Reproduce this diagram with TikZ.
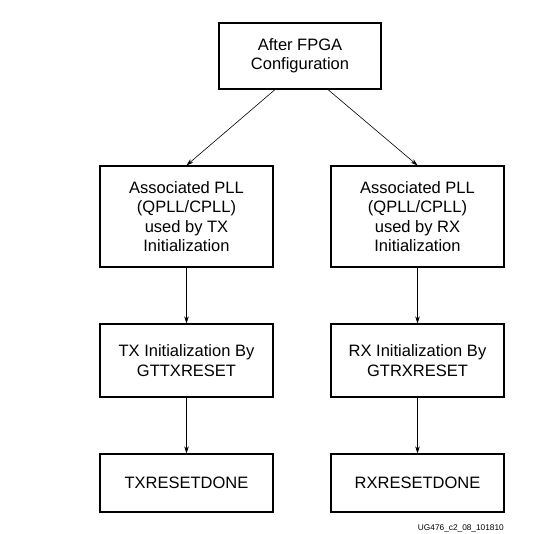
\documentclass[tikz,border=0pt]{standalone}
\usepackage{fontspec}
\setmainfont{Liberation Sans}
\usetikzlibrary{arrows.meta}

\tikzset{
	stepbox/.style={draw, line width=1.2pt, align=center, inner sep=0pt,
		font=\fontsize{16.5}{19.4}\selectfont},
	flow/.style={-{Stealth[length=7pt,width=4.5pt]}, line width=0.6pt}
}

\begin{document}
\begin{tikzpicture}[x=1pt,y=-1pt]
	\useasboundingbox (0,0) rectangle (546,533);
	% start
	\node[stepbox, minimum width=162pt, minimum height=66pt] (config) at (300,56) {After FPGA\\Configuration};
	% PLL boxes
	\node[stepbox, minimum width=173pt, minimum height=101pt] (txpll) at (186.5,216.5) {Associated PLL\\(QPLL/CPLL)\\used by TX\\Initialization};
	\node[stepbox, minimum width=173pt, minimum height=101pt] (rxpll) at (417.5,216.5) {Associated PLL\\(QPLL/CPLL)\\used by RX\\Initialization};
	% reset boxes
	\node[stepbox, minimum width=173pt, minimum height=73pt] (txinit) at (186.5,360.5) {TX Initialization By\\GTTXRESET};
	\node[stepbox, minimum width=173pt, minimum height=73pt] (rxinit) at (417.5,360.5) {RX Initialization By\\GTRXRESET};
	% done boxes
	\node[stepbox, minimum width=173pt, minimum height=58pt] (txdone) at (186.5,483) {TXRESETDONE};
	\node[stepbox, minimum width=173pt, minimum height=58pt] (rxdone) at (417.5,483) {RXRESETDONE};
	% figure id
	\node[anchor=base east, inner sep=0pt, font=\fontsize{8.3}{10}\selectfont] (figid) at (504,530) {UG476\_c2\_08\_101810};

	\draw[flow] ([xshift=-25pt]config.south) -- (txpll.north);
	\draw[flow] ([xshift=28pt]config.south) -- (rxpll.north);
	\draw[flow] (txpll) -- (txinit);
	\draw[flow] (rxpll) -- (rxinit);
	\draw[flow] (txinit) -- (txdone);
	\draw[flow] (rxinit) -- (rxdone);
\end{tikzpicture}
\end{document}
